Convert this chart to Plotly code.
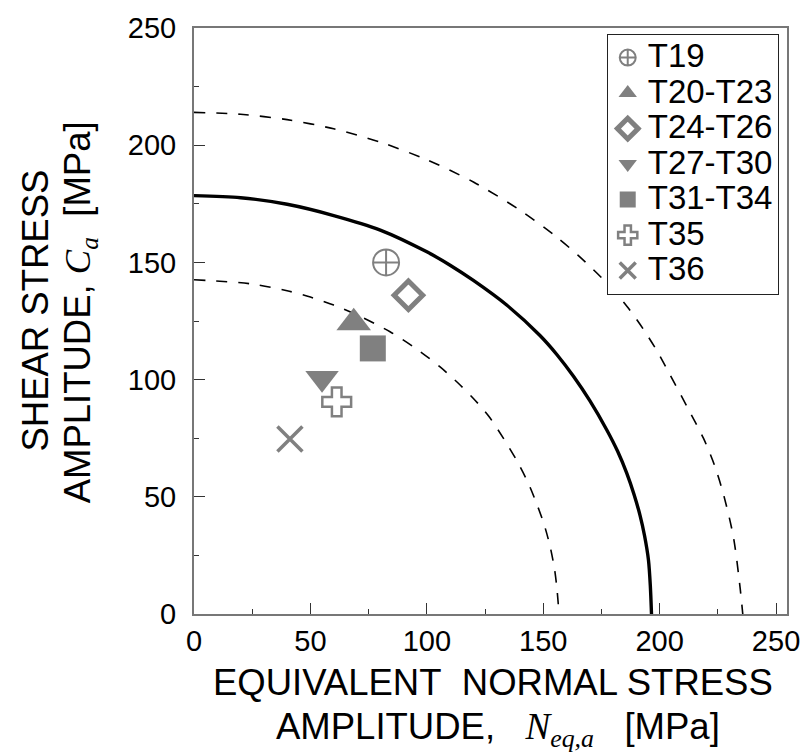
import plotly.graph_objects as go

# ---- data ----
series_names = ["T19", "T20-T23", "T24-T26", "T27-T30", "T31-T34", "T35", "T36"]
neq_a = [82.5, 68.6, 92.1, 55.0, 76.8, 61.3, 41.2]
c_a = [150.0, 124.3, 136.0, 100.6, 113.3, 90.5, 74.7]
symbols = ["circle-cross-open", "triangle-up", "diamond-open", "triangle-down",
           "square", "cross-open", "x-thin-open"]
sizes = [26, 30, 22, 29, 26, 24, 25]
line_widths = [2, 0, 5, 0, 0, 2.5, 3.5]

solid_x = [0, 20, 40, 60, 80, 100, 110, 120, 134.3, 148.6, 156, 162.9, 170, 177.3,
           182, 185.9, 189, 191.6, 193.5, 195.2, 196.0, 196.5]
solid_y = [178.5, 177.6, 174.8, 170.0, 163.8, 154.5, 148.8, 142.3, 131.8, 118.8, 110.5,
           101.5, 91.0, 78.5, 69.3, 60.0, 51.0, 42.0, 33.5, 23.0, 12.0, 0]

outer_x = [0, 20, 40, 60, 80, 100, 120, 140, 155, 165, 178, 186, 193, 199, 204.5,
           212, 218.8, 223.5, 227.4, 231.7, 234.5, 235.7]
outer_y = [214, 213.2, 210.9, 207.0, 201.3, 193.8, 184.3, 172.3, 161.4, 153.0, 140.5,
           131.2, 121.5, 112.0, 102.0, 88.0, 75.0, 63.6, 51.1, 32.8, 11.7, 0]

inner_x = [0, 24.1, 40, 50, 60, 72, 84.2, 95, 105.7, 114.3, 121, 127.1, 133, 138.6,
           143.5, 147.2, 150.5, 152.9, 154.8, 155.8, 156.8]
inner_y = [142.6, 140.9, 137.9, 135.2, 131.8, 126.7, 120.4, 113.5, 105.4, 97.7, 90.9,
           83.7, 74.8, 65.5, 56.0, 47.0, 37.8, 29.0, 19.5, 11.7, 0]

x_ticks = [0, 50, 100, 150, 200, 250]
y_ticks = [0, 50, 100, 150, 200, 250]

GRAY = "#808080"
FONT = "Liberation Sans, Arial, sans-serif"
SERIF = "Liberation Serif, Times New Roman, serif"
TITLE_SIZE = 36.5

fig = go.Figure()

dash_line = dict(color="black", width=1.6, dash="11px,11px", shape="spline", smoothing=0.8)
fig.add_trace(go.Scatter(x=outer_x, y=outer_y, mode="lines", showlegend=False,
                         line=dash_line, hoverinfo="skip"))
fig.add_trace(go.Scatter(x=inner_x, y=inner_y, mode="lines", showlegend=False,
                         line=dash_line, hoverinfo="skip"))
fig.add_trace(go.Scatter(x=solid_x, y=solid_y, mode="lines", showlegend=False,
                         line=dict(color="black", width=3.4, shape="spline", smoothing=0.8),
                         hoverinfo="skip"))

for name, xv, yv, sym, sz, lw in zip(series_names, neq_a, c_a, symbols, sizes, line_widths):
    fig.add_trace(go.Scatter(
        x=[xv], y=[yv], mode="markers",
        name=f"<span style='font-size:33px'>{name}</span>",
        marker=dict(symbol=sym, size=sz, color=GRAY,
                    line=dict(color=GRAY, width=lw)),
    ))

axis_common = dict(
    showgrid=False, zeroline=False,
    showline=True, linecolor="#777777", linewidth=2, mirror=True,
    ticks="inside", ticklen=11, tickwidth=1, tickcolor="#333333",
    minor=dict(ticks="inside", ticklen=5, tickwidth=1, tickcolor="#333333", dtick=25),
    tickfont=dict(family=FONT, size=29, color="black"),
)

fig.update_xaxes(range=[0, 254.7], tickvals=x_ticks, ticktext=[str(v) for v in x_ticks],
                 ticklabelstandoff=0, **axis_common)
fig.update_yaxes(range=[0, 250], tickvals=y_ticks, ticktext=[str(v) for v in y_ticks],
                 ticklabelstandoff=10, **axis_common)

# x-axis title (two lines)
fig.add_annotation(
    xref="paper", yref="paper", x=0.504, y=-0.1166, xanchor="center", yanchor="middle",
    showarrow=False, text="EQUIVALENT&nbsp; NORMAL STRESS",
    font=dict(family=FONT, size=TITLE_SIZE, color="black"),
)
fig.add_annotation(
    xref="paper", yref="paper", x=0.513, y=-0.197, xanchor="center", yanchor="middle",
    showarrow=False,
    text=("AMPLITUDE,&nbsp;&nbsp; "
          f"<span style='font-family:{SERIF}; font-size:37px'><i>N<sub>eq,a</sub></i></span>"
          "&nbsp;&nbsp; [MPa]"),
    font=dict(family=FONT, size=TITLE_SIZE, color="black"),
)
# y-axis title (two lines)
fig.add_annotation(
    xref="paper", yref="paper", x=-0.268, y=0.518, xanchor="center", yanchor="middle",
    showarrow=False, textangle=-90, text="SHEAR STRESS",
    font=dict(family=FONT, size=TITLE_SIZE, color="black"),
)
fig.add_annotation(
    xref="paper", yref="paper", x=-0.192, y=0.515, xanchor="center", yanchor="middle",
    showarrow=False, textangle=-90,
    text=("AMPLITUDE, "
          f"<span style='font-family:{SERIF}'><i>C<sub>a</sub></i></span> &nbsp;[MPa]"),
    font=dict(family=FONT, size=TITLE_SIZE, color="black"),
)

fig.update_layout(
    width=812, height=756,
    margin=dict(l=194, r=25, t=22, b=142),
    paper_bgcolor="white", plot_bgcolor="white",
    font=dict(family=FONT, color="black"),
    legend=dict(x=0.696, y=0.99, xanchor="left", yanchor="top",
                bgcolor="white", bordercolor="#222222", borderwidth=1,
                font=dict(family=FONT, size=25, color="black"),
                itemwidth=30),
)

fig.write_html("out.html")
